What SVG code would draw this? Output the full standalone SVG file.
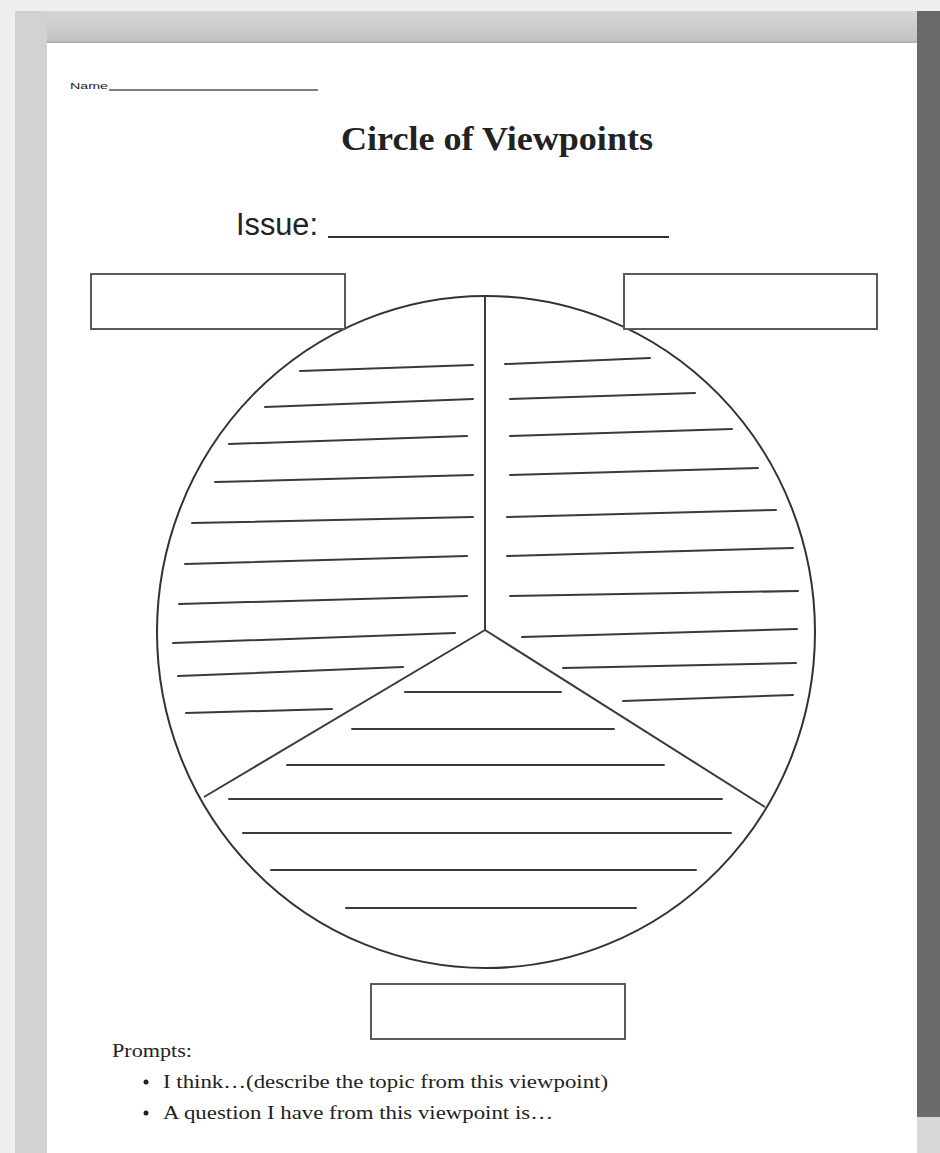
<svg xmlns="http://www.w3.org/2000/svg" width="940" height="1153" viewBox="0 0 940 1153">
<defs>
<linearGradient id="hdr" x1="0" y1="0" x2="0" y2="1">
<stop offset="0" stop-color="#d6d6d6"/>
<stop offset="1" stop-color="#c2c2c2"/>
</linearGradient>
</defs>
<style>
.rule{stroke:#3a3a3a;stroke-width:2;fill:none;stroke-linecap:round}
.box{fill:#fff;stroke:#5a5a5a;stroke-width:2}
.div{stroke:#3a3a3a;stroke-width:2;fill:none}
.serif{font-family:"Liberation Serif","Times New Roman",serif;fill:#222}
.sans{font-family:"Liberation Sans",Arial,sans-serif;fill:#222}
</style>
<!-- background / viewer chrome -->
<rect x="0" y="0" width="940" height="1153" fill="#efefef"/>
<rect x="15" y="11" width="32" height="1142" fill="#d2d2d2"/>
<rect x="47" y="11" width="870" height="32" fill="url(#hdr)"/>
<rect x="47" y="41" width="870" height="2" fill="#b2b2b2"/>
<rect x="47" y="43" width="870" height="1110" fill="#fff"/>
<rect x="917" y="11" width="23" height="1106" fill="#6a6a6a"/>
<rect x="917" y="1117" width="23" height="36" fill="#d8d8d8"/>

<g id="header">
<text class="sans" x="70" y="89" font-size="9" textLength="38" lengthAdjust="spacingAndGlyphs">Name</text>
<line x1="109" y1="90" x2="318" y2="90" stroke="#555" stroke-width="1.5"/>
<text class="serif" x="341" y="150" font-size="34" font-weight="bold" textLength="312" lengthAdjust="spacingAndGlyphs">Circle of Viewpoints</text>
<text class="sans" x="236" y="235" font-size="31" fill="#333" textLength="82" lengthAdjust="spacingAndGlyphs">Issue:</text>
<line x1="328" y1="237" x2="669" y2="237" stroke="#333" stroke-width="2"/>
</g>

<g id="circle">
<ellipse cx="486" cy="632" rx="329" ry="336" fill="#fff" stroke="#333" stroke-width="2"/>
</g>

<g id="dividers">
<line class="div" x1="485" y1="297" x2="485" y2="630"/>
<line class="div" x1="485" y1="630" x2="204" y2="797"/>
<line class="div" x1="485" y1="630" x2="765" y2="807"/>
</g>

<g id="box-left"><rect class="box" x="91" y="274" width="254" height="55"/></g>
<g id="box-right"><rect class="box" x="624" y="274" width="253" height="55"/></g>
<g id="box-bottom"><rect class="box" x="371" y="984" width="254" height="55"/></g>

<g id="left-lines">
<line class="rule" x1="300" y1="371" x2="473" y2="365"/>
<line class="rule" x1="265" y1="407" x2="473" y2="399"/>
<line class="rule" x1="229" y1="444" x2="467" y2="436"/>
<line class="rule" x1="215" y1="482" x2="473" y2="475"/>
<line class="rule" x1="192" y1="523" x2="473" y2="517"/>
<line class="rule" x1="185" y1="564" x2="467" y2="556"/>
<line class="rule" x1="179" y1="604" x2="467" y2="596"/>
<line class="rule" x1="173" y1="643" x2="455" y2="633"/>
<line class="rule" x1="178" y1="676" x2="403" y2="667"/>
<line class="rule" x1="186" y1="713" x2="332" y2="709"/>
</g>

<g id="right-lines">
<line class="rule" x1="505" y1="364" x2="650" y2="358"/>
<line class="rule" x1="510" y1="399" x2="695" y2="393"/>
<line class="rule" x1="510" y1="436" x2="732" y2="429"/>
<line class="rule" x1="510" y1="475" x2="758" y2="468"/>
<line class="rule" x1="507" y1="517" x2="776" y2="510"/>
<line class="rule" x1="507" y1="556" x2="793" y2="548"/>
<line class="rule" x1="510" y1="596" x2="798" y2="591"/>
<line class="rule" x1="522" y1="637" x2="797" y2="629"/>
<line class="rule" x1="563" y1="668" x2="796" y2="663"/>
<line class="rule" x1="623" y1="701" x2="793" y2="695"/>
</g>

<g id="bottom-lines">
<line class="rule" x1="405" y1="692" x2="561" y2="692"/>
<line class="rule" x1="352" y1="729" x2="614" y2="729"/>
<line class="rule" x1="287" y1="765" x2="664" y2="765"/>
<line class="rule" x1="229" y1="799" x2="722" y2="799"/>
<line class="rule" x1="243" y1="833" x2="731" y2="833"/>
<line class="rule" x1="271" y1="870" x2="696" y2="870"/>
<line class="rule" x1="346" y1="908" x2="636" y2="908"/>
</g>

<g id="prompts">
<text class="serif" x="112" y="1057" font-size="19" textLength="80" lengthAdjust="spacingAndGlyphs">Prompts:</text>
<circle cx="146" cy="1082" r="2.5" fill="#222"/>
<text class="serif" x="163" y="1088" font-size="19" textLength="445" lengthAdjust="spacingAndGlyphs">I think…(describe the topic from this viewpoint)</text>
<circle cx="146" cy="1113" r="2.5" fill="#222"/>
<text class="serif" x="163" y="1119" font-size="19" textLength="390" lengthAdjust="spacingAndGlyphs">A question I have from this viewpoint is…</text>
</g>
</svg>
